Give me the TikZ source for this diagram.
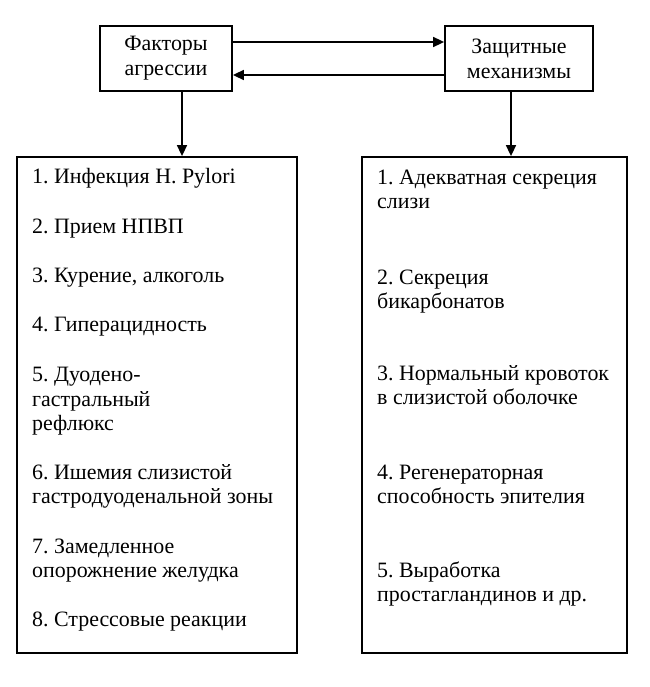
\documentclass[tikz,border=0pt]{standalone}
\usepackage{fontspec}
\setmainfont{Liberation Serif}
\frenchspacing
\usetikzlibrary{arrows.meta}
\tikzset{
	box/.style={draw, line width=1.8bp, inner sep=0pt},
	item/.style={anchor=base west, align=left, inner sep=0pt, font=\fontsize{22}{24.5}\selectfont},
	arr/.style={line width=1.6bp, -{Triangle[length=11bp, width=10bp]}}
}

\begin{document}
\begin{tikzpicture}[x=1bp, y=-1bp]
			%%%%% START %%%%%
			
			\useasboundingbox[fill=white] (0, 0) rectangle (650, 687);
			
			\node[box, minimum width=132bp, minimum height=65bp, align=center, font=\fontsize{22}{25}\selectfont] (agr) at (166, 58.5) {Факторы\\агрессии};
			\node[box, minimum width=148bp, minimum height=65bp, align=center, font=\fontsize{22}{25}\selectfont] (def) at (519, 58.5) {Защитные\\механизмы};
			
			\node[box, minimum width=280bp, minimum height=496bp] (agrlist) at (157, 405) {};
			\node[box, minimum width=265bp, minimum height=496bp] (deflist) at (494.5, 405) {};
			
			\draw[arr] ([yshift=16.5bp]agr.east) -- ([yshift=16.5bp]def.west);
			\draw[arr] ([yshift=-16.5bp]def.west) -- ([yshift=-16.5bp]agr.east);
			\draw[arr] ([xshift=16bp]agr.south) -- ([xshift=16bp]agr.south |- agrlist.north);
			\draw[arr] ([xshift=-8bp]def.south) -- ([xshift=-8bp]def.south |- deflist.north);
			
			% factors of aggression (base = last line)
			\node[item] (a1) at (32, 183.5) {1. Инфекция H. Pylori};
			\node[item] (a2) at (32, 233.5) {2. Прием НПВП};
			\node[item] (a3) at (32, 282.5) {3. Курение, алкоголь};
			\node[item] (a4) at (32, 331.5) {4. Гиперацидность};
			\node[item] (a5) at (32, 430.5) {5. Дуодено-\\гастральный\\рефлюкс};
			\node[item] (a6) at (32, 503.5) {6. Ишемия слизистой\\гастродуоденальной зоны};
			\node[item] (a7) at (32, 577.5) {7. Замедленное\\опорожнение желудка};
			\node[item] (a8) at (32, 626.5) {8. Стрессовые реакции};
			
			% protective mechanisms
			\node[item] (d1) at (377, 208.5) {1. Адекватная секреция\\слизи};
			\node[item] (d2) at (377, 308.5) {2. Секреция\\бикарбонатов};
			\node[item] (d3) at (377, 404.5) {3. Нормальный кровоток\\в слизистой оболочке};
			\node[item] (d4) at (377, 503.5) {4. Регенераторная\\способность эпителия};
			\node[item] (d5) at (377, 601.5) {5. Выработка\\простагландинов и др.};
			
			%%%%% END %%%%%
\end{tikzpicture}
\end{document}
